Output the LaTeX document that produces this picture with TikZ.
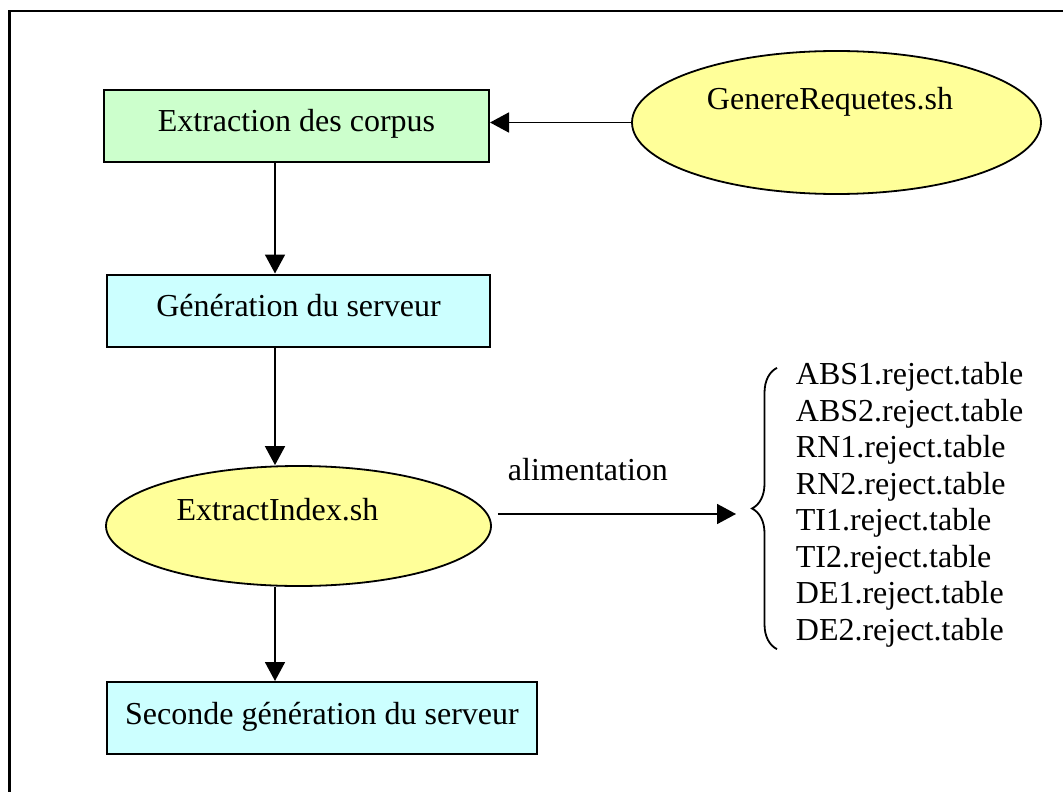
\documentclass[tikz,border=0pt]{standalone}
\usepackage{fontspec}
\setmainfont{Liberation Serif}
\usetikzlibrary{arrows.meta,decorations.pathreplacing,shapes.geometric}

\definecolor{boxgreen}{HTML}{CCFFCC}
\definecolor{boxcyan}{HTML}{CCFFFF}
\definecolor{scriptyellow}{HTML}{FFFF99}

\begin{document}
\begin{tikzpicture}[
  x=0.5pt,
  y=-0.5pt,
  every node/.style={
    font=\fontsize{16pt}{18.25pt}\selectfont
  },
  process/.style={
    draw,
    rectangle,
    line width=1pt,
    minimum height=36pt,
    text height=11pt,
    text depth=5pt,
    inner sep=0pt
  },
  script/.style={
    draw,
    ellipse,
    fill=scriptyellow,
    line width=0.9pt,
    text height=11pt,
    inner sep=0pt
  },
  plain/.style={
    draw=none,
    fill=none,
    inner sep=0pt
  },
  line width=0.9pt,
  >={Triangle[length=9.5pt,width=10pt]}
]

\useasboundingbox (0,0) rectangle (1063,791);
\clip (0,0) rectangle (1063,791);

% Frame
\draw[line width=1.4pt] (9.3,11) rectangle (1100,830);

% Boxes
\node[process, fill=boxgreen, minimum width=192.5pt] (corpus) at (296.5,126) {Extraction des corpus};
\node[process, fill=boxcyan, minimum width=191.5pt] (serveur) at (298.5,310.5) {Génération du serveur};
\node[process, fill=boxcyan, minimum width=215pt] (seconde) at (322,718) {Seconde génération du serveur};

% Scripts
\node[script, minimum width=204.5pt, minimum height=71.5pt, text depth=23.5pt] (genere) at (836.5,122.5)
  {GenereRequetes.sh\hspace*{6.5pt}};
\node[script, minimum width=192.5pt, minimum height=60pt, text depth=17pt] (index) at (298.5,526)
  {ExtractIndex.sh\hspace*{21pt}};

% Tables
\node[plain, anchor=west, align=left] (tables) at (795,505) {
  ABS1.reject.table\\
  ABS2.reject.table\\
  RN1.reject.table\\
  RN2.reject.table\\
  TI1.reject.table\\
  TI2.reject.table\\
  DE1.reject.table\\
  DE2.reject.table
};

% Brace
\draw[decorate, decoration={brace, amplitude=12.5pt}]
  ([xshift=-9pt,yshift=-0.5pt]tables.south west) -- ([xshift=-9pt,yshift=-3pt]tables.north west);

\coordinate (spine) at (275,0);
\coordinate (feed) at (736,514);

% Arrows
\draw[->] (genere.west) -- (corpus.east |- genere.west);
\draw[->] (corpus.south -| spine) -- (serveur.north -| spine);
\draw[->] (serveur.south -| spine) -- (index.north -| spine);
\draw[->] (index.south -| spine) -- (seconde.north -| spine);
\draw[->, shorten <=3pt] (index.east |- feed) -- (feed);

\node[plain, anchor=base west] (alim) at (507,480) {alimentation};

\end{tikzpicture}
\end{document}
